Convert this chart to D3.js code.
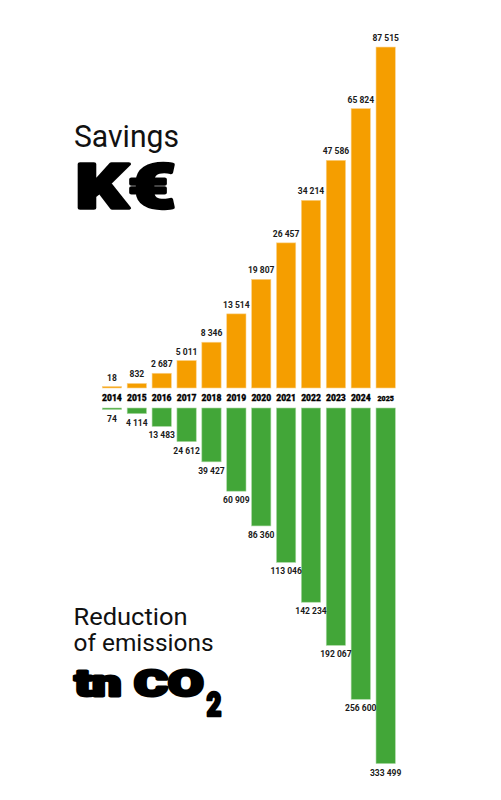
<!DOCTYPE html>
<html>
<head>
<meta charset="utf-8">
<script src="https://cdn.jsdelivr.net/npm/d3@7"></script>
<style>
  body { margin: 0; background: #fff; }
  svg { display: block; }
</style>
</head>
<body>
<div id="chart"></div>
<script>
const years = ["2014", "2015", "2016", "2017", "2018", "2019", "2020", "2021", "2022", "2023", "2024", "2025"];
const savings = [18, 832, 2687, 5011, 8346, 13514, 19807, 26457, 34214, 47586, 65824, 87515];
const reduction = [74, 4114, 13483, 24612, 39427, 60909, 86360, 113046, 142234, 192067, 256600, 333499];

const width = 501;
const height = 800;
const topBase = 388;     // where savings bars sit
const bottomBase = 408;  // where reduction bars hang from

const data = years.map((y, i) => ({ year: y, sav: savings[i], red: reduction[i] }));

const svg = d3.select("#chart")
    .append("svg")
    .attr("width", width)
    .attr("height", height);

const x = d3.scaleBand()
    .domain(years)
    .range([102.3, 395.3])
    .paddingInner(0.225)
    .paddingOuter(0);

// the original compresses the tallest bars, so the scales have a knee
const hSav = d3.scaleLinear()
    .domain([0, 35000, 90000])
    .range([0, 192, 348]);

const hRed = d3.scaleLinear()
    .domain([0, 145000, 340000])
    .range([0, 198, 361]);

const fmt = v => d3.format(",")(v).replace(/,/g, " ");
const labelFont = "Roboto, 'DejaVu Sans', sans-serif";

// savings bars
svg.append("g")
    .selectAll("rect")
    .data(data)
    .enter()
    .append("rect")
    .attr("x", d => x(d.year))
    .attr("width", x.bandwidth())
    .attr("y", d => topBase - Math.max(1.5, hSav(d.sav)))
    .attr("height", d => Math.max(1.5, hSav(d.sav)))
    .attr("fill", "#f59e00")
    .attr("stroke", "#fbd28c")
    .attr("stroke-width", 0.6);

svg.append("g")
    .selectAll("text")
    .data(data)
    .enter()
    .append("text")
    .attr("x", d => x(d.year) + x.bandwidth() / 2)
    .attr("y", d => topBase - Math.max(1.5, hSav(d.sav)) - 6)
    .attr("text-anchor", "middle")
    .attr("font-family", labelFont)
    .attr("font-weight", 700)
    .attr("font-size", 8.5)
    .attr("fill", "#1a1a1a")
    .text(d => fmt(d.sav));

// reduction bars
svg.append("g")
    .selectAll("rect")
    .data(data)
    .enter()
    .append("rect")
    .attr("x", d => x(d.year))
    .attr("width", x.bandwidth())
    .attr("y", bottomBase)
    .attr("height", d => Math.max(1.5, hRed(d.red)))
    .attr("fill", "#42a638")
    .attr("stroke", "#a9d8a2")
    .attr("stroke-width", 0.6);

svg.append("g")
    .selectAll("text")
    .data(data)
    .enter()
    .append("text")
    .attr("x", d => x(d.year) + x.bandwidth() / 2)
    .attr("y", d => bottomBase + Math.max(1.5, hRed(d.red)) + 12)
    .attr("text-anchor", "middle")
    .attr("font-family", labelFont)
    .attr("font-weight", 700)
    .attr("font-size", 8.5)
    .attr("fill", "#1a1a1a")
    .text(d => fmt(d.red));

// year labels between the two halves
svg.append("g")
    .selectAll("text")
    .data(data)
    .enter()
    .append("text")
    .attr("x", d => x(d.year) + x.bandwidth() / 2)
    .attr("y", 401)
    .attr("text-anchor", "middle")
    .attr("font-family", labelFont)
    .attr("font-weight", 900)
    .attr("font-size", (d, i) => i === years.length - 1 ? 7 : 8.5)
    .attr("fill", "#000")
    .attr("stroke", "#000")
    .attr("stroke-width", 0.3)
    .text(d => d.year);

// titles
function title(txt, tx, ty, size, len, heavy, sw) {
    const t = svg.append("text")
        .attr("x", tx)
        .attr("y", ty)
        .attr("font-family", "Roboto, 'Open Sans', sans-serif")
        .attr("font-size", size)
        .attr("font-weight", heavy ? 900 : 400)
        .attr("fill", "#111")
        .attr("textLength", len)
        .attr("lengthAdjust", "spacingAndGlyphs")
        .text(txt);
    if (heavy) {
        t.attr("fill", "#000").attr("stroke", "#000").attr("stroke-width", sw || 2.6).attr("stroke-linejoin", "round");
    }
    return t;
}

title("Savings", 74, 147, 32, 105, false);
title("K€", 75.5, 207.5, 61, 100, true, 3.4);

title("Reduction", 73.5, 625, 24, 114, false);
title("of emissions", 73.5, 651, 24, 140, false);
title("tn CO", 74.5, 696, 37, 129, true, 3);
title("2", 206.5, 716, 34, 15, true, 2.6);
</script>
</body>
</html>
